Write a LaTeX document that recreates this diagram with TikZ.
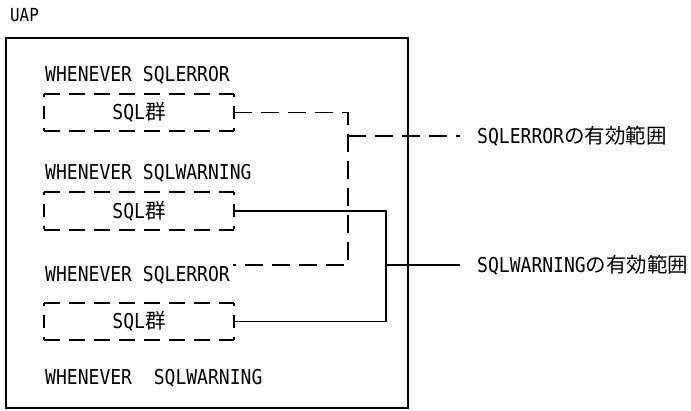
\documentclass[tikz,border=0pt]{standalone}
\usepackage{fontspec}
\setmainfont{DejaVu Sans Mono}[FakeStretch=0.88]
\newfontfamily\jpfont{Noto Sans CJK JP}
\usepackage{tikz}
\usetikzlibrary{positioning,calc}
\tikzset{
  stmt/.style      = {anchor=west, inner sep=0pt},
  sqlbox/.style    = {minimum width=190pt, minimum height=37pt, inner sep=0pt},
  frame/.style     = {draw, line width=1.8pt, inner sep=0pt},
  topedge/.style   = {line width=1.7pt, dash pattern=on 16pt off 9pt},
  sideedge/.style  = {line width=1.7pt, dash pattern=on 3pt off 9pt on 13pt off 9pt on 3pt},
  errscope/.style  = {line width=1.7pt, dash pattern=on 18pt off 9pt},
  warnscope/.style = {line width=1.7pt},
  scopelabel/.style= {anchor=west, inner xsep=17pt, inner ysep=0pt},
}
\newcommand{\sqlgroup}{SQL{\jpfont 群}}

\begin{document}
\begin{tikzpicture}[x=1pt, y=-1pt, font=\fontsize{20.5}{24}\selectfont]
  \useasboundingbox (0,0) rectangle (691,410);

  %% ---------------- the UAP and its statements ----------------------------
  \node[stmt, font=\fontsize{18}{21}\selectfont] (uapname) at (10,15) {UAP};
  \node[frame, minimum width=402pt, minimum height=370pt] (uapbox) at (207,223) {};

  \node[stmt] (wErrA)  at (45,75)  {WHENEVER SQLERROR};
  \node[sqlbox] (sqlA) at (139,112.5) {\sqlgroup};
  \node[stmt] (wWarnA) at (45,173) {WHENEVER SQLWARNING};
  \node[sqlbox] (sqlB) at (139,211) {\sqlgroup};
  \node[stmt] (wErrB)  at (45,275) {WHENEVER SQLERROR};
  \node[sqlbox] (sqlC) at (139,321.5) {\sqlgroup};
  \node[stmt] (wWarnB) at (45,378) {WHENEVER~~SQLWARNING};

  % dashed outline of each SQL group, side by side
  \foreach \b in {sqlA,sqlB,sqlC} {
    \draw[topedge]  (\b.north west) -- (\b.north east);
    \draw[topedge]  (\b.south west) -- (\b.south east);
    \draw[sideedge] (\b.north west) -- (\b.south west);
    \draw[sideedge] (\b.north east) -- (\b.south east);
  }

  %% ---------------- scope brackets and their labels ------------------------
  \coordinate (errBus)  at (348,136);
  \coordinate (warnBus) at (386,265);
  \coordinate (errEnd)  at ([shift={(3pt,10pt)}]wErrB.east);

  \node[scopelabel] (scopeErr)  at (460,136) {SQLERROR{\jpfont の有効範囲}};
  \node[scopelabel] (scopeWarn) at (460,265) {SQLWARNING{\jpfont の有効範囲}};

  \draw[errscope] (sqlA.east) -| (errBus) |- (errEnd);
  \draw[errscope] (errBus) -- (scopeErr.west);

  \draw[warnscope] (sqlB.east) -| (warnBus) |- (sqlC.east);
  \draw[warnscope] (warnBus) -- (scopeWarn.west);
\end{tikzpicture}
\end{document}
